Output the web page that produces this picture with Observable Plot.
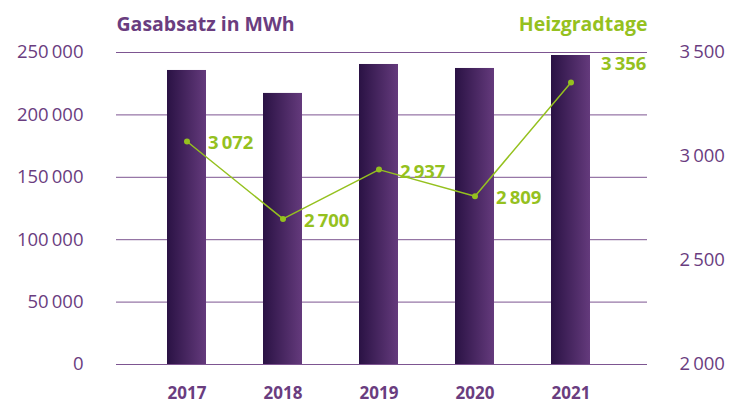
<!DOCTYPE html>
<html><head><meta charset="utf-8">
<script src="https://cdn.jsdelivr.net/npm/d3@7"></script>
<script src="https://cdn.jsdelivr.net/npm/@observablehq/plot@0.6"></script>
<style>body{margin:0;background:#fff;}</style>
</head><body><div id="chart"></div>
<script>
const years = ["2017", "2018", "2019", "2020", "2021"];
const gasabsatz = [235600, 217200, 240400, 237200, 247600];
const heizgradtage = [3072, 2700, 2937, 2809, 3356];
const leftTicks = [0, 50000, 100000, 150000, 200000, 250000];
const rightTicks = [2000, 2500, 3000, 3500];

const yMax = 250000, r0 = 2000, r1 = 3500;
const toLeft = v => (v - r0) / (r1 - r0) * yMax;
const fromLeft = v => Math.round(r0 + v / yMax * (r1 - r0));
const fmt = n => d3.format(",")(n).replace(/,/g, "\u2009");

const purple = "#6a3d7f";
const green = "#95c11f";

const data = years.map((year, i) => ({year, gas: gasabsatz[i], hgt: heizgradtage[i], hgtY: toLeft(heizgradtage[i])}));

const chart = Plot.plot({
  width: 744, height: 403,
  marginTop: 52, marginBottom: 39, marginLeft: 116, marginRight: 97,
  style: {fontFamily: "'Open Sans', sans-serif", background: "#fff", overflow: "visible"},
  x: {domain: years, paddingInner: 0.59375, paddingOuter: 0.5625, align: 0.472, axis: null},
  y: {domain: [0, yMax], axis: null},
  marks: [
    Plot.ruleY(leftTicks, {stroke: "#7d5591", strokeWidth: 1}),
    Plot.barY(data, {x: "year", y: "gas", fill: "url(#barGrad)"}),
    Plot.axisY({ticks: leftTicks, tickSize: 0, tickPadding: 33, tickFormat: fmt, fontSize: 18.5, fill: purple, label: null}),
    Plot.axisY({anchor: "right", ticks: rightTicks.map(toLeft), tickFormat: d => fmt(fromLeft(d)), tickSize: 0, tickPadding: 32, fontSize: 18.5, fill: purple, label: null}),
    Plot.axisX({tickSize: 0, tickPadding: 22, fontSize: 17, fontWeight: "bold", fill: purple, label: null}),
    Plot.line(data, {x: "year", y: "hgtY", stroke: green, strokeWidth: 1.5}),
    Plot.dot(data, {x: "year", y: "hgtY", r: 3, fill: green, stroke: null}),
    Plot.text(data.filter(d => d.year !== "2021"), {x: "year", y: "hgtY", text: d => fmt(d.hgt), textAnchor: "start", dx: 21, dy: 2, fontSize: 18.5, fontWeight: "bold", fill: green}),
    Plot.text(data.filter(d => d.year === "2021"), {x: "year", y: "hgtY", text: d => fmt(d.hgt), textAnchor: "start", dx: 30, dy: -18, fontSize: 18.5, fontWeight: "bold", fill: green}),
    Plot.text(["Gasabsatz in MWh"], {frameAnchor: "top-left", textAnchor: "start", dy: -35, fontSize: 19.5, fontWeight: "bold", fill: purple}),
    Plot.text(["Heizgradtage"], {frameAnchor: "top-right", textAnchor: "end", dy: -35, fontSize: 19.5, fontWeight: "bold", fill: green})
  ]
});

const svgEl = chart.tagName.toLowerCase() === "svg" ? chart : chart.querySelector("svg");
const defs = d3.select(svgEl).insert("defs", ":first-child");
const grad = defs.append("linearGradient").attr("id", "barGrad").attr("x1", "0").attr("x2", "1").attr("y1", "0").attr("y2", "0");
grad.append("stop").attr("offset", "0%").attr("stop-color", "#2a1244");
grad.append("stop").attr("offset", "100%").attr("stop-color", "#643a7c");

document.getElementById("chart").appendChild(chart);
</script>
</body></html>
